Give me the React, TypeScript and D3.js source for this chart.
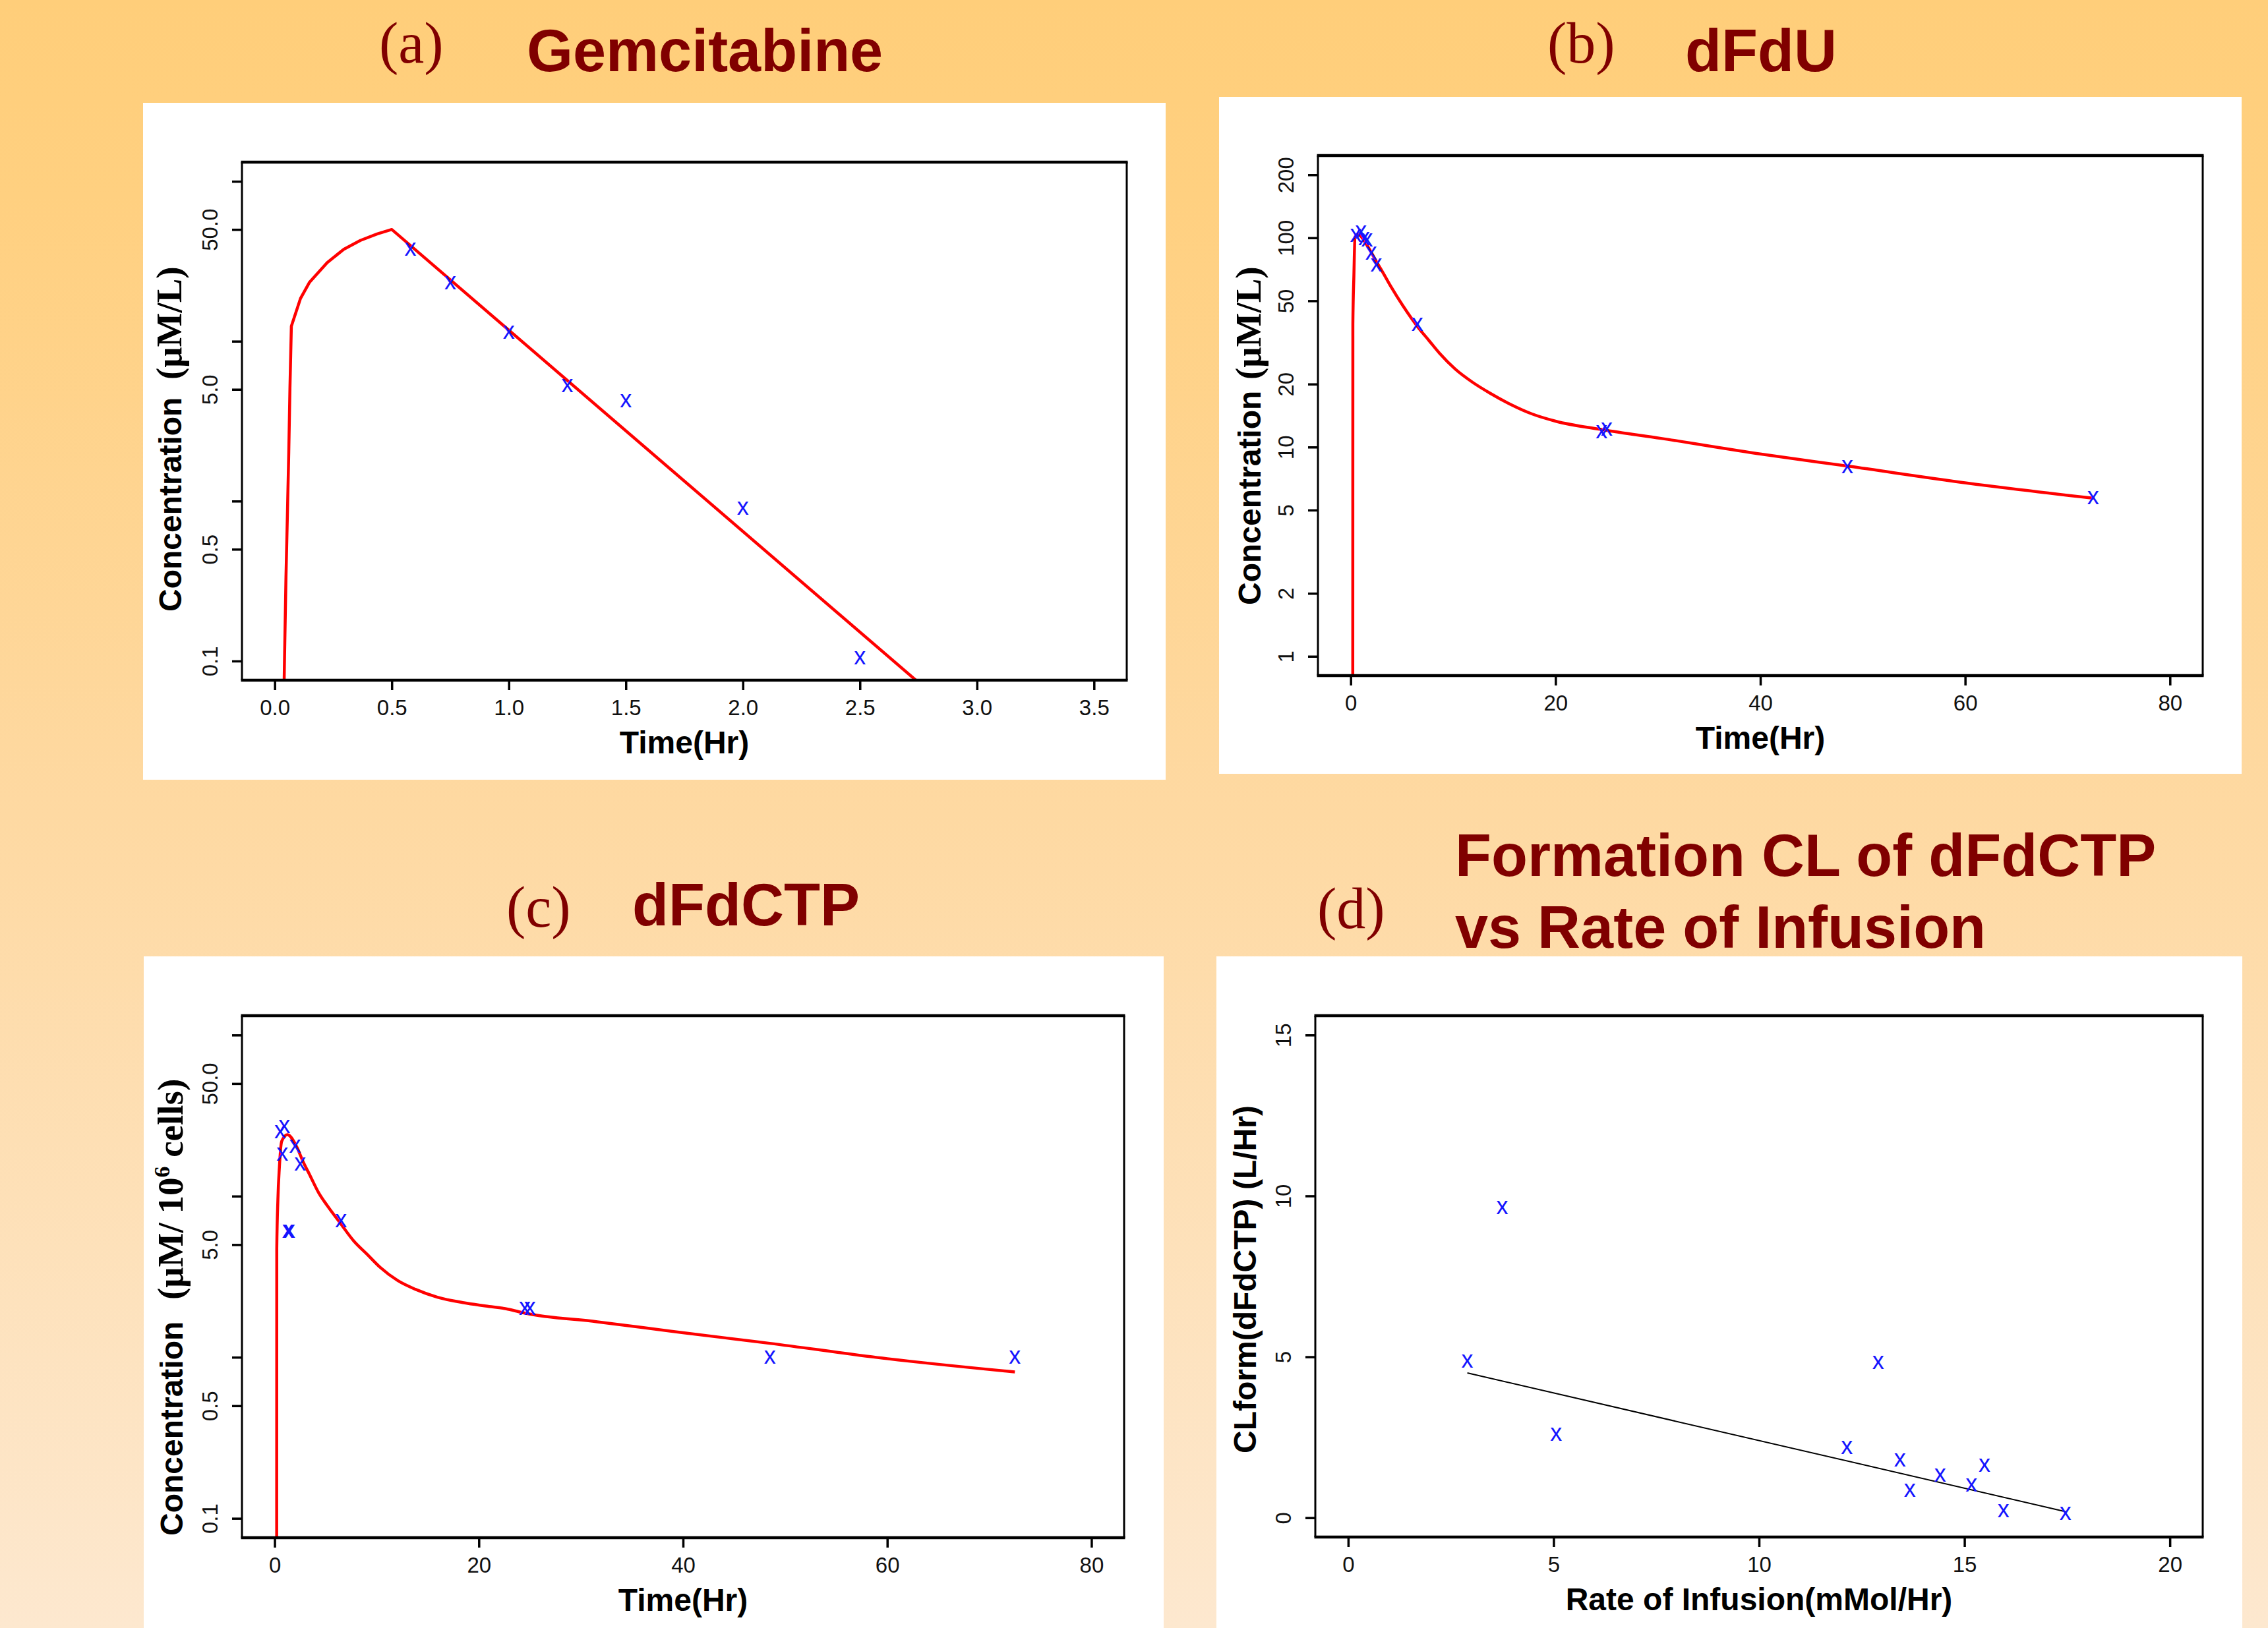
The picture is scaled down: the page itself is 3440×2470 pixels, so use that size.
import * as d3 from "d3";
import React, { useEffect, useRef } from "react";

const W = 3440;
const H = 2470;
const SANS = "'Liberation Sans', Arial, Helvetica, sans-serif";
const SERIF = "'Liberation Serif', 'Times New Roman', Times, serif";
const DARK_RED = "#800000";

// (a) Gemcitabine, plasma (µM/L)
const gemObsTime = [0.58, 0.75, 1.0, 1.25, 1.5, 2.0, 2.5];
const gemObsConc = [37.6, 23.1, 11.3, 5.26, 4.2, 0.9, 0.104];
const gemFitTime = [0.039, 0.043, 0.048, 0.054, 0.06, 0.065, 0.071, 0.11, 0.148, 0.224, 0.295, 0.366, 0.438, 0.5, 2.8];
const gemFitConc = [0.06, 0.129, 0.333, 0.81, 2.03, 5.1, 12.4, 18.5, 23.3, 31.0, 37.6, 42.7, 46.9, 50.0, 0.0636];

// (b) dFdU, plasma (µM/L)
const dfduObsTime = [0.5, 1.0, 1.3, 1.6, 2.0, 2.5, 6.5, 24.5, 25.0, 48.5, 72.5];
const dfduObsConc = [102.6, 106.4, 98.9, 96.9, 84.3, 73.9, 38.4, 11.8, 12.1, 8.0, 5.7];
const dfduFitTime = [0.2, 0.21, 0.31, 0.42, 0.7, 1.61, 2.47, 3.11, 3.97, 5.04, 6.55, 7.62, 8.69, 10.2, 11.9, 13.6, 15.6, 17.7, 20, 24.6, 30.3, 40.1, 48.6, 60.1, 72.6];
const dfduFitConc = [0.5, 38.8, 66, 101, 103.8, 91.9, 77.5, 68.7, 58.0, 47.8, 37.5, 32.4, 28.0, 23.6, 20.4, 18.1, 16.0, 14.4, 13.3, 12.1, 11.0, 9.25, 8.1, 6.74, 5.69];

// (c) dFdCTP, intracellular (µM / 10^6 cells)
const ctpObsTime = [0.55, 0.75, 0.95, 1.3, 1.45, 2.0, 2.5, 6.5, 24.5, 25.0, 48.5, 72.5];
const ctpObsConc = [24.9, 18.2, 26.9, 6.0, 6.0, 20.3, 15.8, 7.0, 2.0, 2.0, 1.0, 1.0];
const ctpFitTime = [0.2, 0.21, 0.32, 0.47, 0.69, 1.25, 2.15, 2.8, 3.45, 4.31, 5.17, 6.46, 7.76, 9.05, 10.34, 12.06, 13.79, 15.94, 18.53, 20.69, 22.84, 24.5, 31.6, 40, 48.5, 60, 72.5];
const ctpFitConc = [0.05, 4.71, 9.55, 15.3, 21.9, 24.1, 20.3, 16.3, 13.5, 10.5, 8.7, 6.76, 5.26, 4.36, 3.61, 2.99, 2.64, 2.36, 2.18, 2.08, 1.99, 1.88, 1.66, 1.42, 1.22, 0.98, 0.81];

// (d) formation clearance vs infusion rate
const infRate = [2.9, 3.75, 5.06, 12.14, 12.9, 13.43, 13.67, 14.41, 15.17, 15.49, 15.95, 17.46];
const clForm = [4.85, 9.62, 2.59, 2.18, 4.81, 1.78, 0.84, 1.31, 1.0, 1.62, 0.2, 0.13];
const regRate = [2.9, 17.46];
const regCl = [4.5, 0.19];

// axis ticks
const timeTicksA = [0, 0.5, 1, 1.5, 2, 2.5, 3, 3.5];
const timeTicksLong = [0, 20, 40, 60, 80];
const concTicksAC = [0.1, 0.5, 1, 5, 10, 50, 100];
const concLabelsAC = ["0.1", "0.5", "", "5.0", "", "50.0", ""];
const concTicksB = [1, 2, 5, 10, 20, 50, 100, 200];
const concLabelsB = ["1", "2", "5", "10", "20", "50", "100", "200"];
const rateTicks = [0, 5, 10, 15, 20];
const clTicks = [0, 5, 10, 15];

type Span = { t: string; serif?: boolean; sup?: boolean; after?: boolean };

interface Panel {
  id: string;
  box: [number, number, number, number]; // left, right, top, bottom
  xRange: [number, number];
  yRange: [number, number];
  logY: boolean;
  smooth: boolean;
  xTicks: number[];
  xFmt: (v: number) => string;
  yTicks: number[];
  yLabels: string[];
  obsX: number[];
  obsY: number[];
  fitX: number[];
  fitY: number[];
  fitColor: string;
  fitWidth: number;
  xTitle: string;
  yTitleX: number;
  yTitle: { y: number; spans: Span[] }[];
}

const pad = ([a, b]: [number, number]): [number, number] => [a - 0.04 * (b - a), b + 0.04 * (b - a)];
const padLog = ([a, b]: [number, number]): [number, number] => {
  const la = Math.log10(a);
  const lb = Math.log10(b);
  const d = lb - la;
  return [Math.pow(10, la - 0.04 * d), Math.pow(10, lb + 0.04 * d)];
};

const concSpans: Span[] = [{ t: "(\u03BCM/L)", serif: true }];

const panels: Panel[] = [
  {
    id: "a",
    box: [367, 1709, 246, 1032],
    xRange: [0, 3.5],
    yRange: [0.1, 100],
    logY: true,
    smooth: false,
    xTicks: timeTicksA,
    xFmt: d3.format(".1f"),
    yTicks: concTicksAC,
    yLabels: concLabelsAC,
    obsX: gemObsTime,
    obsY: gemObsConc,
    fitX: gemFitTime,
    fitY: gemFitConc,
    fitColor: "#ff0000",
    fitWidth: 4.5,
    xTitle: "Time(Hr)",
    yTitleX: 275,
    yTitle: [
      { y: 928, spans: [{ t: "Concentration" }] },
      { y: 576, spans: concSpans },
    ],
  },
  {
    id: "b",
    box: [1999, 3341, 236, 1025],
    xRange: [0, 80],
    yRange: [1, 200],
    logY: true,
    smooth: true,
    xTicks: timeTicksLong,
    xFmt: d3.format("d"),
    yTicks: concTicksB,
    yLabels: concLabelsB,
    obsX: dfduObsTime,
    obsY: dfduObsConc,
    fitX: dfduFitTime,
    fitY: dfduFitConc,
    fitColor: "#ff0000",
    fitWidth: 4.5,
    xTitle: "Time(Hr)",
    yTitleX: 1912,
    yTitle: [
      { y: 918, spans: [{ t: "Concentration" }] },
      { y: 576, spans: concSpans },
    ],
  },
  {
    id: "c",
    box: [367, 1705, 1541, 2333],
    xRange: [0, 80],
    yRange: [0.1, 100],
    logY: true,
    smooth: true,
    xTicks: timeTicksLong,
    xFmt: d3.format("d"),
    yTicks: concTicksAC,
    yLabels: concLabelsAC,
    obsX: ctpObsTime,
    obsY: ctpObsConc,
    fitX: ctpFitTime,
    fitY: ctpFitConc,
    fitColor: "#ff0000",
    fitWidth: 4.5,
    xTitle: "Time(Hr)",
    yTitleX: 277,
    yTitle: [
      { y: 2330, spans: [{ t: "Concentration" }] },
      {
        y: 1972,
        spans: [
          { t: "(\u03BCM/ 10", serif: true },
          { t: "6", serif: true, sup: true },
          { t: " cells)", serif: true, after: true },
        ],
      },
    ],
  },
  {
    id: "d",
    box: [1995, 3341, 1541, 2332],
    xRange: [0, 20],
    yRange: [0, 15],
    logY: false,
    smooth: false,
    xTicks: rateTicks,
    xFmt: d3.format("d"),
    yTicks: clTicks,
    yLabels: clTicks.map(String),
    obsX: infRate,
    obsY: clForm,
    fitX: regRate,
    fitY: regCl,
    fitColor: "#000000",
    fitWidth: 2,
    xTitle: "Rate of Infusion(mMol/Hr)",
    yTitleX: 1905,
    yTitle: [{ y: 2205, spans: [{ t: "CLform(dFdCTP) (L/Hr)" }] }],
  },
];

const whiteBoxes = [
  [217, 156, 1768, 1183],
  [1849, 147, 3400, 1174],
  [218, 1451, 1765, 2470],
  [1845, 1451, 3401, 2470],
];

const titles = [
  { t: "(a)", x: 575, y: 95, serif: true },
  { t: "Gemcitabine", x: 799, y: 108, serif: false },
  { t: "(b)", x: 2347, y: 95, serif: true },
  { t: "dFdU", x: 2556, y: 108, serif: false },
  { t: "(c)", x: 768, y: 1406, serif: true },
  { t: "dFdCTP", x: 959, y: 1404, serif: false },
  { t: "(d)", x: 1998, y: 1408, serif: true },
  { t: "Formation CL of dFdCTP", x: 2207, y: 1329, serif: false },
  { t: "vs Rate of Infusion", x: 2207, y: 1438, serif: false },
];

function drawPanel(svg: d3.Selection<SVGSVGElement, unknown, null, undefined>, p: Panel) {
  const [l, r, t, b] = p.box;
  const x = d3.scaleLinear().domain(pad(p.xRange)).range([l, r]);
  const y = p.logY
    ? d3.scaleLog().domain(padLog(p.yRange)).range([b, t])
    : d3.scaleLinear().domain(pad(p.yRange)).range([b, t]);

  const g = svg.append("g");
  const clipId = `clip-${p.id}`;
  g.append("clipPath").attr("id", clipId).append("rect").attr("x", l).attr("y", t).attr("width", r - l).attr("height", b - t);

  // fitted curve
  const line = d3
    .line<[number, number]>()
    .x((d) => x(d[0]))
    .y((d) => y(d[1]))
    .curve(p.smooth ? d3.curveMonotoneX : d3.curveLinear);
  g.append("path")
    .datum(d3.zip(p.fitX, p.fitY) as [number, number][])
    .attr("d", line)
    .attr("fill", "none")
    .attr("stroke", p.fitColor)
    .attr("stroke-width", p.fitWidth)
    .attr("stroke-linejoin", "round")
    .attr("clip-path", `url(#${clipId})`);

  // observed points drawn as "x"
  const ms = 36;
  g.selectAll("text.obs")
    .data(d3.zip(p.obsX, p.obsY))
    .join("text")
    .attr("class", "obs")
    .attr("x", (d) => x(d[0]))
    .attr("y", (d) => y(d[1]) + ms * 0.26)
    .attr("text-anchor", "middle")
    .attr("font-family", SANS)
    .attr("font-size", ms)
    .attr("fill", "#1414ff")
    .text("x");

  // axes
  const xAxis = d3
    .axisBottom(x)
    .tickValues(p.xTicks)
    .tickFormat((v) => p.xFmt(v as number))
    .tickSizeInner(15)
    .tickSizeOuter(0)
    .tickPadding(15);
  const xg = g.append("g").attr("transform", `translate(0,${b})`).call(xAxis);
  xg.select(".domain").remove();
  xg.selectAll("line").attr("stroke", "#000").attr("stroke-width", 3.5);
  xg.selectAll("text").attr("font-family", SANS).attr("font-size", 33).attr("fill", "#111");

  const yAxis = d3
    .axisLeft(y as d3.ScaleContinuousNumeric<number, number>)
    .tickValues(p.yTicks)
    .tickFormat((_v, i) => p.yLabels[i])
    .tickSizeInner(15)
    .tickSizeOuter(0);
  const yg = g.append("g").attr("transform", `translate(${l},0)`).call(yAxis);
  yg.select(".domain").remove();
  yg.selectAll("line").attr("stroke", "#000").attr("stroke-width", 3.5);
  yg.selectAll<SVGTextElement, unknown>("text")
    .filter(function () {
      return (this.textContent || "") === "";
    })
    .remove();
  yg.selectAll("text")
    .attr("x", 0)
    .attr("y", -37)
    .attr("dy", null)
    .attr("text-anchor", "middle")
    .attr("transform", "rotate(-90)")
    .attr("font-family", SANS)
    .attr("font-size", 33)
    .attr("fill", "#111");

  // box
  g.append("line").attr("x1", l - 1.5).attr("x2", r + 1.5).attr("y1", t).attr("y2", t).attr("stroke", "#000").attr("stroke-width", 4.5);
  g.append("line").attr("x1", l - 1.5).attr("x2", r + 1.5).attr("y1", b).attr("y2", b).attr("stroke", "#000").attr("stroke-width", 4.5);
  g.append("line").attr("x1", l).attr("x2", l).attr("y1", t).attr("y2", b).attr("stroke", "#000").attr("stroke-width", 3);
  g.append("line").attr("x1", r).attr("x2", r).attr("y1", t).attr("y2", b).attr("stroke", "#000").attr("stroke-width", 3);

  // axis titles
  g.append("text")
    .attr("x", (l + r) / 2)
    .attr("y", b + 111)
    .attr("text-anchor", "middle")
    .attr("font-family", SANS)
    .attr("font-weight", "bold")
    .attr("font-size", 48)
    .attr("fill", "#000")
    .text(p.xTitle);

  p.yTitle.forEach((piece) => {
    const txt = g
      .append("text")
      .attr("transform", `translate(${p.yTitleX},${piece.y}) rotate(-90)`)
      .attr("text-anchor", "start")
      .attr("font-weight", "bold")
      .attr("fill", "#000");
    piece.spans.forEach((s) => {
      txt
        .append("tspan")
        .attr("font-family", s.serif ? SERIF : SANS)
        .attr("font-size", s.sup ? 34 : s.serif ? 55 : 48)
        .attr("dy", s.sup ? -20 : s.after ? 20 : 0)
        .text(s.t);
    });
  });
}

const App: React.FC = () => {
  const svgRef = useRef<SVGSVGElement>(null);

  useEffect(() => {
    const svg = d3.select(svgRef.current!);
    svg.selectAll("*").remove();

    const defs = svg.append("defs");
    const grad = defs.append("linearGradient").attr("id", "bg").attr("x1", 0).attr("y1", 0).attr("x2", 0).attr("y2", 1);
    grad.append("stop").attr("offset", "0%").attr("stop-color", "#ffce7a");
    grad.append("stop").attr("offset", "12%").attr("stop-color", "#ffd080");
    grad.append("stop").attr("offset", "50%").attr("stop-color", "#fed9a2");
    grad.append("stop").attr("offset", "100%").attr("stop-color", "#fde8cf");
    svg.append("rect").attr("width", W).attr("height", H).attr("fill", "url(#bg)");

    svg
      .selectAll("rect.panel")
      .data(whiteBoxes)
      .join("rect")
      .attr("class", "panel")
      .attr("x", (d) => d[0])
      .attr("y", (d) => d[1])
      .attr("width", (d) => d[2] - d[0])
      .attr("height", (d) => d[3] - d[1])
      .attr("fill", "#ffffff");

    svg
      .selectAll("text.title")
      .data(titles)
      .join("text")
      .attr("class", "title")
      .attr("x", (d) => d.x)
      .attr("y", (d) => d.y)
      .attr("font-family", (d) => (d.serif ? SERIF : SANS))
      .attr("font-weight", (d) => (d.serif ? "normal" : "bold"))
      .attr("font-size", (d) => (d.serif ? 88 : 90))
      .attr("fill", DARK_RED)
      .text((d) => d.t);

    panels.forEach((p) => drawPanel(svg, p));
  }, []);

  return (
    <svg
      ref={svgRef}
      width={W}
      height={H}
      style={{ position: "absolute", left: 0, top: 0, display: "block" }}
    />
  );
};

export default App;
